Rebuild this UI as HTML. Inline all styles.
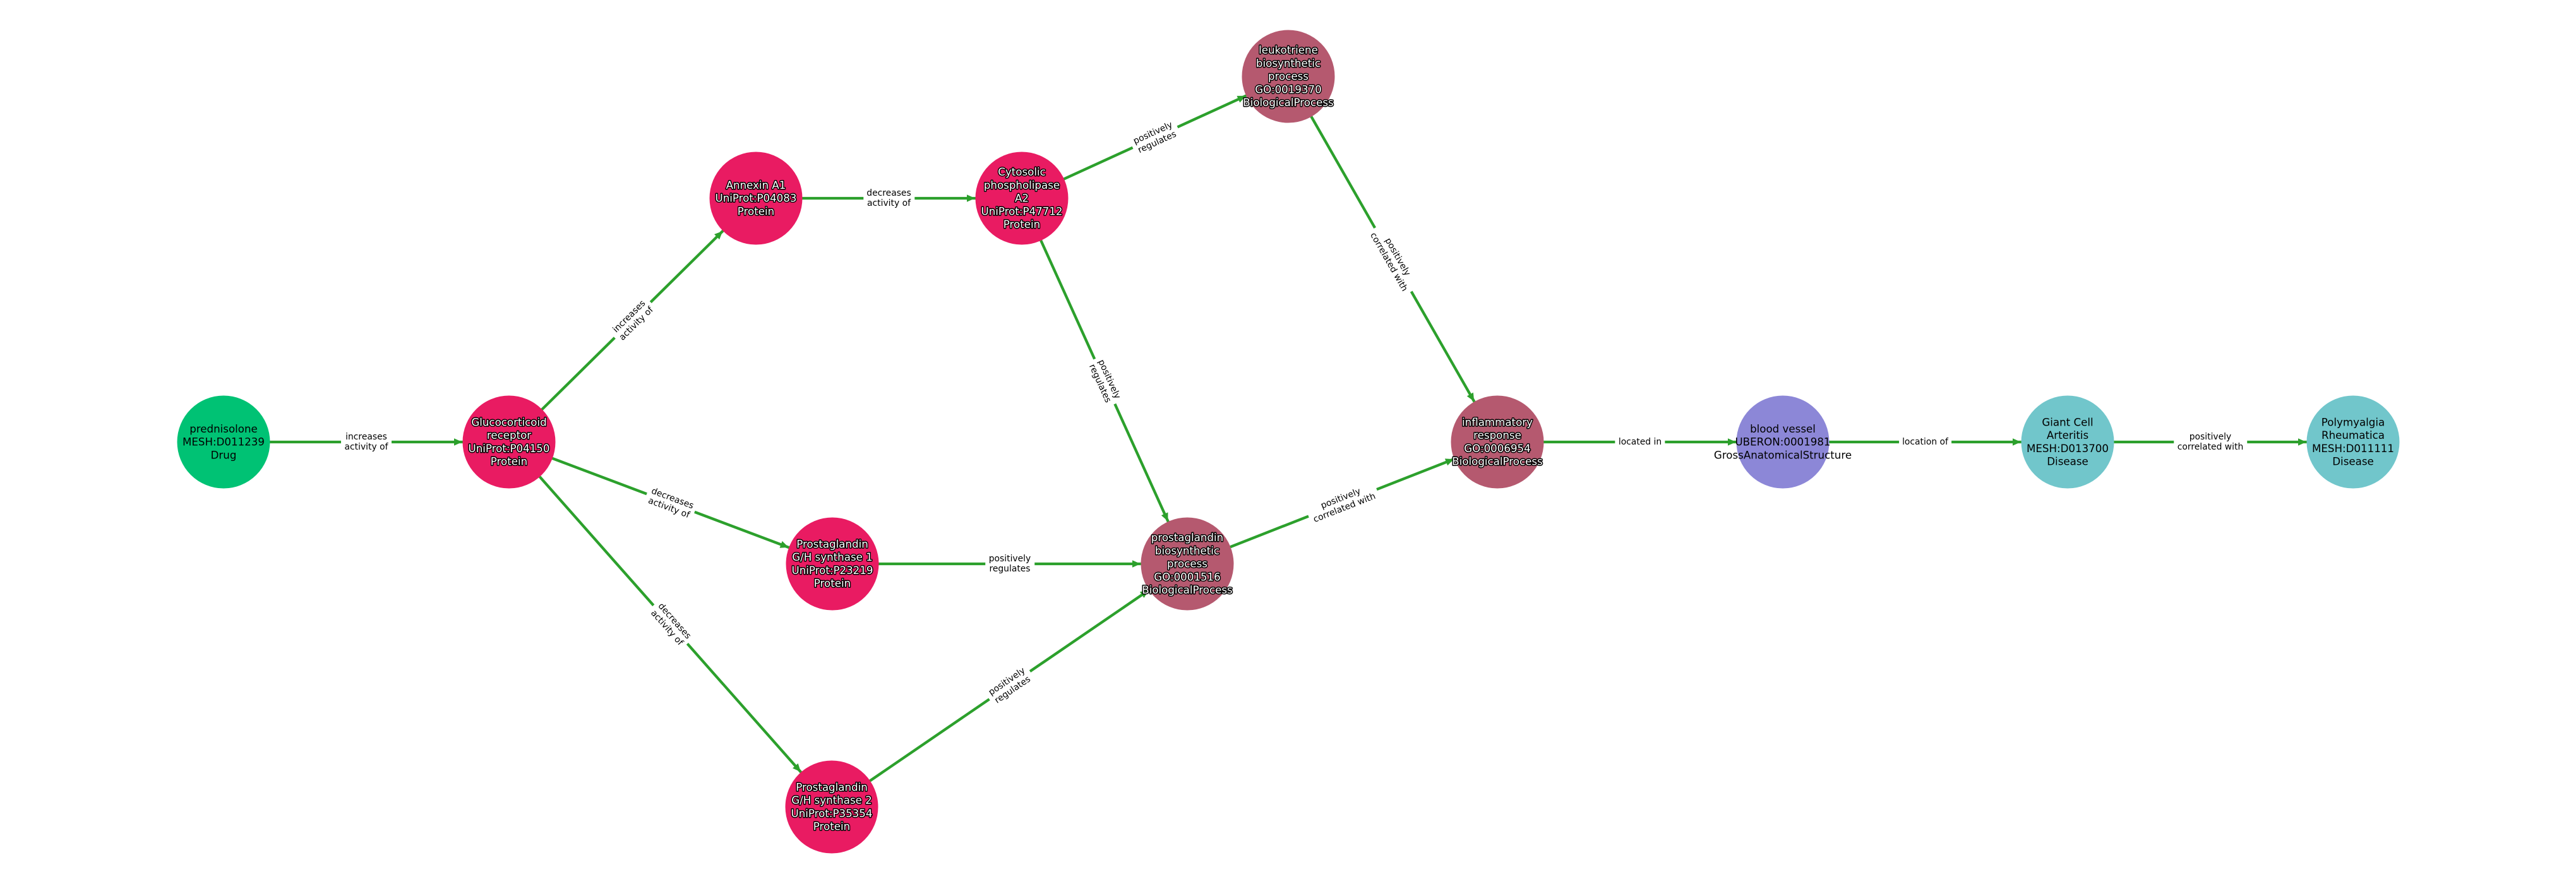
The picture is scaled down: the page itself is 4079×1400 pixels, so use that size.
<!DOCTYPE html>
<html><head><meta charset="utf-8"><style>
html,body{margin:0;padding:0;background:#fff;width:4079px;height:1400px;overflow:hidden}
svg{position:absolute;left:0;top:0}
svg text{font-family:"DejaVu Sans",sans-serif;font-size:16.67px;text-anchor:middle}
.o{fill:#fff;stroke:#000;stroke-width:2.9px;paint-order:stroke fill;stroke-linejoin:round}
.k{fill:#000}
.l{position:absolute;background:#fff;font:13.89px/16px "DejaVu Sans",sans-serif;color:#000;text-align:center;white-space:pre;padding:3px 5.5px;transform:translate(-50%,-50%) rotate(var(--r))}
</style></head><body>
<svg width="4079" height="1400" viewBox="0 0 4079 1400" xmlns="http://www.w3.org/2000/svg">
<defs><marker id="a" markerUnits="userSpaceOnUse" markerWidth="14" markerHeight="14" viewBox="0 0 14 14" refX="88" refY="7" orient="auto"><path d="M1 1.2 L14 7 L1 12.8 Z" fill="#2ca02c"/></marker></defs>
<g stroke="#2ca02c" stroke-width="4.3" fill="none">
<line x1="354" y1="700" x2="806" y2="700" marker-end="url(#a)"/>
<line x1="806" y1="700" x2="1197" y2="314" marker-end="url(#a)"/>
<line x1="806" y1="700" x2="1318" y2="893" marker-end="url(#a)"/>
<line x1="806" y1="700" x2="1317" y2="1278" marker-end="url(#a)"/>
<line x1="1197" y1="314" x2="1618" y2="314" marker-end="url(#a)"/>
<line x1="1618" y1="314" x2="2040" y2="121" marker-end="url(#a)"/>
<line x1="1618" y1="314" x2="1880" y2="893" marker-end="url(#a)"/>
<line x1="2040" y1="121" x2="2371" y2="700" marker-end="url(#a)"/>
<line x1="1318" y1="893" x2="1880" y2="893" marker-end="url(#a)"/>
<line x1="1317" y1="1278" x2="1880" y2="893" marker-end="url(#a)"/>
<line x1="1880" y1="893" x2="2371" y2="700" marker-end="url(#a)"/>
<line x1="2371" y1="700" x2="2823" y2="700" marker-end="url(#a)"/>
<line x1="2823" y1="700" x2="3274" y2="700" marker-end="url(#a)"/>
<line x1="3274" y1="700" x2="3726" y2="700" marker-end="url(#a)"/>
</g>
<g>
<circle cx="354" cy="700" r="73.5" fill="#00c274"/>
<circle cx="806" cy="700" r="73.5" fill="#e91b62"/>
<circle cx="1197" cy="314" r="73.5" fill="#e91b62"/>
<circle cx="1618" cy="314" r="73.5" fill="#e91b62"/>
<circle cx="1318" cy="893" r="73.5" fill="#e91b62"/>
<circle cx="1317" cy="1278" r="73.5" fill="#e91b62"/>
<circle cx="2040" cy="121" r="73.5" fill="#b5596f"/>
<circle cx="1880" cy="893" r="73.5" fill="#b5596f"/>
<circle cx="2371" cy="700" r="73.5" fill="#b5596f"/>
<circle cx="2823" cy="700" r="73.5" fill="#8c87d7"/>
<circle cx="3274" cy="700" r="73.5" fill="#71c6cb"/>
<circle cx="3726" cy="700" r="73.5" fill="#71c6cb"/>
</g>
<text class="k" y="684.75"><tspan x="354">prednisolone</tspan><tspan x="354" dy="20.75">MESH:D011239</tspan><tspan x="354" dy="20.75">Drug</tspan></text>
<text class="o" y="674.4"><tspan x="806">Glucocorticoid</tspan><tspan x="806" dy="20.75">receptor</tspan><tspan x="806" dy="20.75">UniProt:P04150</tspan><tspan x="806" dy="20.75">Protein</tspan></text>
<text class="o" y="298.75"><tspan x="1197">Annexin A1</tspan><tspan x="1197" dy="20.75">UniProt:P04083</tspan><tspan x="1197" dy="20.75">Protein</tspan></text>
<text class="o" y="278"><tspan x="1618">Cytosolic</tspan><tspan x="1618" dy="20.75">phospholipase</tspan><tspan x="1618" dy="20.75">A2</tspan><tspan x="1618" dy="20.75">UniProt:P47712</tspan><tspan x="1618" dy="20.75">Protein</tspan></text>
<text class="o" y="85"><tspan x="2040">leukotriene</tspan><tspan x="2040" dy="20.75">biosynthetic</tspan><tspan x="2040" dy="20.75">process</tspan><tspan x="2040" dy="20.75">GO:0019370</tspan><tspan x="2040" dy="20.75">BiologicalProcess</tspan></text>
<text class="o" y="867.4"><tspan x="1318">Prostaglandin</tspan><tspan x="1318" dy="20.75">G/H synthase 1</tspan><tspan x="1318" dy="20.75">UniProt:P23219</tspan><tspan x="1318" dy="20.75">Protein</tspan></text>
<text class="o" y="1252.4"><tspan x="1317">Prostaglandin</tspan><tspan x="1317" dy="20.75">G/H synthase 2</tspan><tspan x="1317" dy="20.75">UniProt:P35354</tspan><tspan x="1317" dy="20.75">Protein</tspan></text>
<text class="o" y="857"><tspan x="1880">prostaglandin</tspan><tspan x="1880" dy="20.75">biosynthetic</tspan><tspan x="1880" dy="20.75">process</tspan><tspan x="1880" dy="20.75">GO:0001516</tspan><tspan x="1880" dy="20.75">BiologicalProcess</tspan></text>
<text class="o" y="674.4"><tspan x="2371">inflammatory</tspan><tspan x="2371" dy="20.75">response</tspan><tspan x="2371" dy="20.75">GO:0006954</tspan><tspan x="2371" dy="20.75">BiologicalProcess</tspan></text>
<text class="k" y="684.75"><tspan x="2823">blood vessel</tspan><tspan x="2823" dy="20.75">UBERON:0001981</tspan><tspan x="2823" dy="20.75">GrossAnatomicalStructure</tspan></text>
<text class="k" y="674.4"><tspan x="3274">Giant Cell</tspan><tspan x="3274" dy="20.75">Arteritis</tspan><tspan x="3274" dy="20.75">MESH:D013700</tspan><tspan x="3274" dy="20.75">Disease</tspan></text>
<text class="k" y="674.4"><tspan x="3726">Polymyalgia</tspan><tspan x="3726" dy="20.75">Rheumatica</tspan><tspan x="3726" dy="20.75">MESH:D011111</tspan><tspan x="3726" dy="20.75">Disease</tspan></text>
</svg>
<div class="l" style="left:580px;top:700px;--r:0deg">increases
activity of</div>
<div class="l" style="left:1001.5px;top:507px;--r:-44.6deg">increases
activity of</div>
<div class="l" style="left:1062px;top:796.5px;--r:20.65deg">decreases
activity of</div>
<div class="l" style="left:1061.5px;top:989px;--r:48.5deg">decreases
activity of</div>
<div class="l" style="left:1407.5px;top:314px;--r:0deg">decreases
activity of</div>
<div class="l" style="left:1829px;top:217.5px;--r:-24.6deg">positively
regulates</div>
<div class="l" style="left:1749px;top:603.5px;--r:65.66deg">positively
regulates</div>
<div class="l" style="left:2205.5px;top:410.5px;--r:60.24deg">positively
correlated with</div>
<div class="l" style="left:1599px;top:893px;--r:0deg">positively
regulates</div>
<div class="l" style="left:1598.5px;top:1085.5px;--r:-34.4deg">positively
regulates</div>
<div class="l" style="left:2125.5px;top:796.5px;--r:-21.46deg">positively
correlated with</div>
<div class="l" style="left:2597px;top:700px;--r:0deg">located in</div>
<div class="l" style="left:3048.5px;top:700px;--r:0deg">location of</div>
<div class="l" style="left:3500px;top:700px;--r:0deg">positively
correlated with</div>
</body></html>
